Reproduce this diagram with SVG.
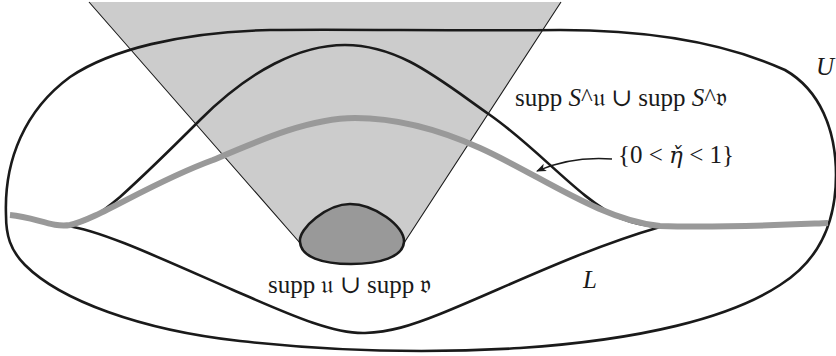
<svg xmlns="http://www.w3.org/2000/svg" width="836" height="356" viewBox="0 0 836 356">
<style>
.curve{fill:none;stroke:#1a1a1a;stroke-width:2.6;stroke-linecap:round;stroke-linejoin:round}
.edge{fill:none;stroke:#1a1a1a;stroke-width:1.1}
.band{fill:none;stroke:#999999;stroke-width:6;stroke-linecap:butt}
.lbl{font-family:"Liberation Serif","DejaVu Serif",serif;font-size:25px;fill:#1a1a1a}
.it{font-style:italic}
.eta{font-family:"DejaVu Serif","Liberation Serif",serif;font-style:italic;font-size:23px}
</style>
<defs>
<marker id="ah" viewBox="0 0 10 10" refX="9" refY="5" markerWidth="10" markerHeight="10" markerUnits="userSpaceOnUse" orient="auto">
<path d="M0,1 L10,5 L0,9 L2.5,5 Z" fill="#1a1a1a"/>
</marker>
</defs>
<g id="cone">
<path d="M89,2 L561,2 L404,243 L300,243 Z" fill="#cccccc"/>
<path class="edge" d="M89,2 L300,243 M561,2 L404,243"/>
</g>
<g id="U">
<path class="curve" d="M6,215 C4,160 25,110 70,77 C110,50 180,32 270,30 C350,29 450,31 560,30 C660,30 730,45 785,70 C820,90 836,130 836,175 C836,220 820,260 780,285 C730,318 640,340 520,348 C440,353 340,352 240,341 C140,330 60,300 25,265 C10,250 6,235 6,215 Z"/>
</g>
<g id="lens">
<path class="curve" d="M67,226 C85,224 100,214 120,197 C150,170 180,140 200,120 C250,70 300,45 345,45 C400,45 440,80 490,115 C540,150 580,200 620,218 C635,224 645,226 660,227"/>
<path class="curve" d="M67,226 C100,230 160,258 233,290 C280,310 330,334 365,333 C390,332 410,326 440,314 C500,290 580,250 660,227"/>
</g>
<g id="blob">
<path d="M300,242 C298,228 328,204 350,204 C374,204 405,226 404,242 C403,257 380,264 351,264 C322,264 301,257 300,242 Z" fill="#999999" stroke="#1a1a1a" stroke-width="2.6"/>
</g>
<g id="eta-band">
<path class="band" d="M10,215 C35,217 52,228 70,225 C100,218 150,183 213,160 C260,140 310,118 355,118 C400,118 440,130 480,148 C540,175 600,220 660,226 C720,228 780,225 828,223"/>
</g>
<g id="connectors">
<path d="M612,159 C585,157 560,161 537,171" fill="none" stroke="#1a1a1a" stroke-width="1.3" marker-end="url(#ah)"/>
</g>
<g id="labels">
<text class="lbl" x="515" y="106">supp <tspan class="it">S</tspan>^𝔲 ∪ supp <tspan class="it">S</tspan>^𝔳</text>
<text class="lbl" x="618" y="163">{0 &lt; <tspan class="eta">η̌</tspan> &lt; 1}</text>
<text class="lbl" x="268" y="293">supp 𝔲 ∪ supp 𝔳</text>
<text class="lbl it" x="816" y="75">U</text>
<text class="lbl it" x="583" y="288">L</text>
</g>
</svg>
